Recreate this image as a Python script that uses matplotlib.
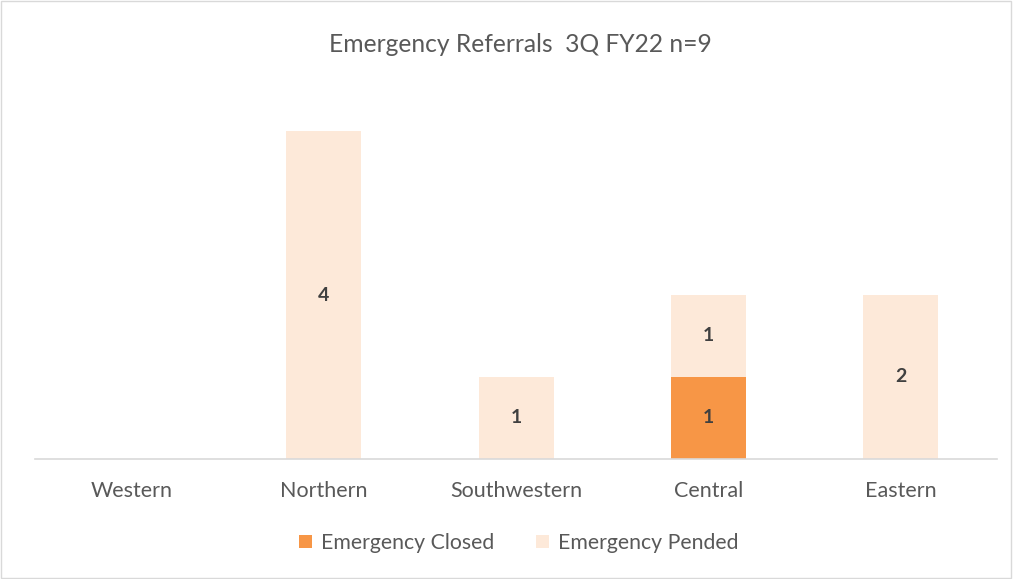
import numpy as np
import matplotlib.pyplot as plt
from matplotlib.patches import Rectangle

regions = ['Western', 'Northern', 'Southwestern', 'Central', 'Eastern']
closed = [0, 0, 0, 1, 0]
pended = [0, 4, 1, 1, 2]

plt.rcParams['font.family'] = ['Lato', 'DejaVu Sans']

fig = plt.figure(figsize=(10.13, 5.79), dpi=100)
ax = fig.add_axes([0.0346, 0.2073, 0.9496, 0.708])

x = np.arange(len(regions))
w = 0.39
b1 = ax.bar(x, closed, w, color='#F79646', label='Emergency Closed')
b2 = ax.bar(x, pended, w, bottom=closed, color='#FDE9D9', label='Emergency Pended')

# value labels, skip empty segments
for bars, vals, base in [(b1, closed, [0]*5), (b2, pended, closed)]:
    for i, v in enumerate(vals):
        if v > 0:
            ax.text(x[i], base[i] + v / 2, str(v), ha='center', va='center',
                    fontsize=14, fontweight='bold', color='#404040')

ax.set_xlim(-0.5, len(regions) - 0.5)
ax.set_ylim(0, 5)
ax.set_yticks([])
ax.set_xticks(x)
ax.set_xticklabels(regions, fontsize=15.5, color='#595959')
ax.tick_params(axis='x', length=0, pad=16)
for s in ['top', 'right', 'left']:
    ax.spines[s].set_visible(False)
ax.spines['bottom'].set_color('#d9d9d9')
ax.spines['bottom'].set_linewidth(1.2)

fig.text(0.514, 0.923, 'Emergency Referrals  3Q FY22 n=9', ha='center', va='center',
         fontsize=17.7, color='#595959')

fig.legend(handles=[b1, b2], loc='center', bbox_to_anchor=(0.512, 0.062), ncol=2,
           frameon=False, fontsize=15.3, labelcolor='#595959',
           handlelength=0.6, handleheight=0.6, handletextpad=0.4, columnspacing=2.0)

fig.patches.append(Rectangle((0.001, 0.002), 0.997, 0.996, transform=fig.transFigure,
                             fill=False, edgecolor='#d9d9d9', linewidth=1))

fig.savefig('out.png', dpi=100)
